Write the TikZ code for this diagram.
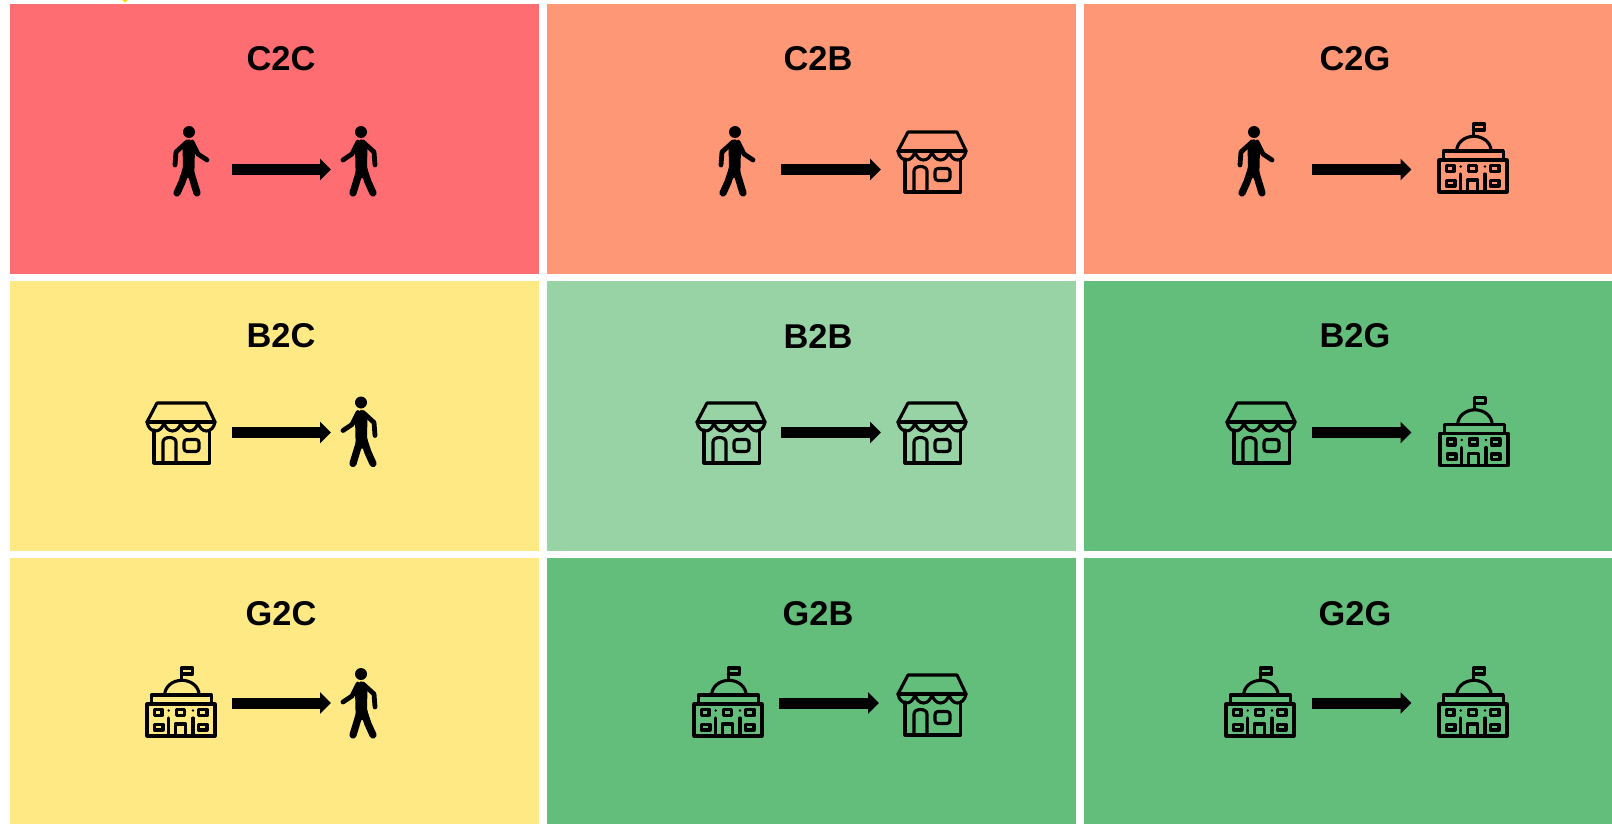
\documentclass[tikz,border=0pt]{standalone}
\usepackage{fontspec}
\setmainfont{Liberation Sans}
\usetikzlibrary{arrows.meta}

\definecolor{cellred}{HTML}{FD6D72}
\definecolor{cellorange}{HTML}{FE9776}
\definecolor{cellyellow}{HTML}{FFE985}
\definecolor{cellmint}{HTML}{97D3A5}
\definecolor{cellgreen}{HTML}{63BD7B}

\begin{document}
\begin{tikzpicture}[
    x=0.5pt,
    y=-0.5pt,
    line join=round,
    cell/.style={
        rectangle,
        minimum width=264.5pt,
        minimum height=134.7pt,
        inner sep=0pt,
        outer sep=0pt
    },
    tag/.style={font=\fontsize{17.2}{20}\selectfont\bfseries, inner sep=0pt},
    flow/.style={-{Triangle[width=10.5pt,length=5.5pt]}, line width=5.5pt},
    icon/.style={line width=1.55pt, line cap=round},
    walker/.pic={
        \fill (0,-30) circle[radius=6];
        \fill (0,-23) -- (6,-15) -- (5.5,6) -- (5,16) -- (-8,16) -- (-6,4) -- (-6.5,-15) -- cycle;
        \draw[line width=2.4pt, line cap=round] (-2,-20) -- (-13,-10) -- (-14,3);
        \draw[line width=2.4pt, line cap=round] (3,-20) -- (9,-8) -- (18,-2);
        \draw[line width=3.6pt, line cap=round] (-3,8) -- (-7,20) -- (-12,31);
        \draw[line width=3.6pt, line cap=round] (1,8) -- (8,31);
    },
    storefront/.pic={
        \draw[icon] (-34,-11) -- (-24,-30) -- (25,-30) -- (34,-11);
        \draw[icon] (-34,-11) -- (34,-11);
        \draw[icon] (-34,-11) .. controls +(2,12) and +(-2,12) .. ++(17,0)
            .. controls +(2,12) and +(-2,12) .. ++(17,0)
            .. controls +(2,12) and +(-2,12) .. ++(17,0)
            .. controls +(2,12) and +(-2,12) .. ++(17,0);
        \draw[icon] (-27,-3) -- (-27,30) -- (28.7,30) -- (28.7,-3);
        \draw[icon] (-18,30) -- (-18,9) .. controls (-18,3) and (-5,3) .. (-5,9) -- (-5,30);
        \draw[icon, rounded corners=1.5pt] (3,6.5) rectangle (18,18.5);
    },
    capitol/.pic={
        \draw[icon] (0.3,-23) -- (0.3,-34) -- (11.5,-34) -- (11.5,-28) -- (0.3,-28);
        \draw[icon] (-16.3,-7) arc[start angle=180, end angle=360, x radius=17.2, y radius=14.7];
        \draw[icon] (-29.7,2) -- (-29.7,-7) -- (30.3,-7) -- (30.3,2);
        \draw[icon] (-34,2) rectangle (34,34);
        \draw[icon] (-26.5,7.5) rectangle (-19,13.5);
        \draw[icon] (-4.5,7.5) rectangle (3.5,13.5);
        \draw[icon] (17.5,7.5) rectangle (26,13.5);
        \draw[icon] (-26.5,22.5) rectangle (-18,28);
        \draw[icon] (17.5,22.5) rectangle (26,28);
        \draw[icon] (-5.7,34) -- (-5.7,22) -- (4.7,22) -- (4.7,34);
        \draw[icon] (-12.3,16) -- (-12.3,34);
        \draw[icon] (12,16) -- (12,34);
        \fill (-12.3,8.5) circle[radius=1.4];
        \fill (12,8.5) circle[radius=1.4];
    }
]
\useasboundingbox (0,0) rectangle (1612,824);

% =========================
% Cells
% =========================
\node[cell, fill=cellred] (c2c) at (274.5,138.8) {};
\node[cell, fill=cellorange] (c2b) at (811.5,138.8) {};
\node[cell, fill=cellorange] (c2g) at (1348.5,138.8) {};

\node[cell, fill=cellyellow] (b2c) at (274.5,416) {};
\node[cell, fill=cellmint] (b2b) at (811.5,416) {};
\node[cell, fill=cellgreen] (b2g) at (1348.5,416) {};

\node[cell, fill=cellyellow, minimum height=133.5pt] (g2c) at (274.5,691.5) {};
\node[cell, fill=cellgreen, minimum height=133.5pt] (g2b) at (811.5,691.5) {};
\node[cell, fill=cellgreen, minimum height=133.5pt] (g2g) at (1348.5,691.5) {};

\fill[yellow!80!orange] (122,0) -- (128,0) -- (125,2.5) -- cycle;

% =========================
% Titles
% =========================
\node[tag] (c2ctag) at (281,58.5) {C2C};
\node[tag] (c2btag) at (818,58.5) {C2B};
\node[tag] (c2gtag) at (1355,58.5) {C2G};
\node[tag] (b2ctag) at (281,336) {B2C};
\node[tag] (b2btag) at (818,336) {B2B};
\node[tag] (b2gtag) at (1355,336) {B2G};
\node[tag] (g2ctag) at (281,614) {G2C};
\node[tag] (g2btag) at (818,614) {G2B};
\node[tag] (g2gtag) at (1355,614) {G2G};

% =========================
% Icons
% =========================
\pic at (189,162) {walker};
\pic[xscale=-1] at (361,162) {walker};
\pic at (735,162) {walker};
\pic at (932,162) {storefront};
\pic at (1254,162) {walker};
\pic at (1473,158) {capitol};

\pic at (181,433) {storefront};
\pic[xscale=-1] at (361,432.5) {walker};
\pic at (731,433) {storefront};
\pic at (932,433) {storefront};
\pic at (1261,433) {storefront};
\pic at (1474,431.5) {capitol};

\pic at (181,702) {capitol};
\pic[xscale=-1] at (361,704) {walker};
\pic at (728,702) {capitol};
\pic at (932,705) {storefront};
\pic at (1260,702) {capitol};
\pic at (1473,702) {capitol};

% =========================
% Arrow ends
% =========================
\coordinate (c2cfrom) at (231.5,169.5);
\coordinate (c2cto) at (331,169.5);
\coordinate (c2bfrom) at (781,169.5);
\coordinate (c2bto) at (881,169.5);
\coordinate (c2gfrom) at (1312,169.5);
\coordinate (c2gto) at (1411.5,169.5);
\coordinate (b2cfrom) at (231.5,432.5);
\coordinate (b2cto) at (331,432.5);
\coordinate (b2bfrom) at (781,432.5);
\coordinate (b2bto) at (881,432.5);
\coordinate (b2gfrom) at (1312,432.5);
\coordinate (b2gto) at (1411.5,432.5);
\coordinate (g2cfrom) at (231.5,703);
\coordinate (g2cto) at (331,703);
\coordinate (g2bfrom) at (779,703);
\coordinate (g2bto) at (879,703);
\coordinate (g2gfrom) at (1312,703);
\coordinate (g2gto) at (1411.5,703);

% =========================
% Arrows
% =========================
\draw[flow] (c2cfrom) -- (c2cto);
\draw[flow] (c2bfrom) -- (c2bto);
\draw[flow] (c2gfrom) -- (c2gto);
\draw[flow] (b2cfrom) -- (b2cto);
\draw[flow] (b2bfrom) -- (b2bto);
\draw[flow] (b2gfrom) -- (b2gto);
\draw[flow] (g2cfrom) -- (g2cto);
\draw[flow] (g2bfrom) -- (g2bto);
\draw[flow] (g2gfrom) -- (g2gto);

\end{tikzpicture}
\end{document}
